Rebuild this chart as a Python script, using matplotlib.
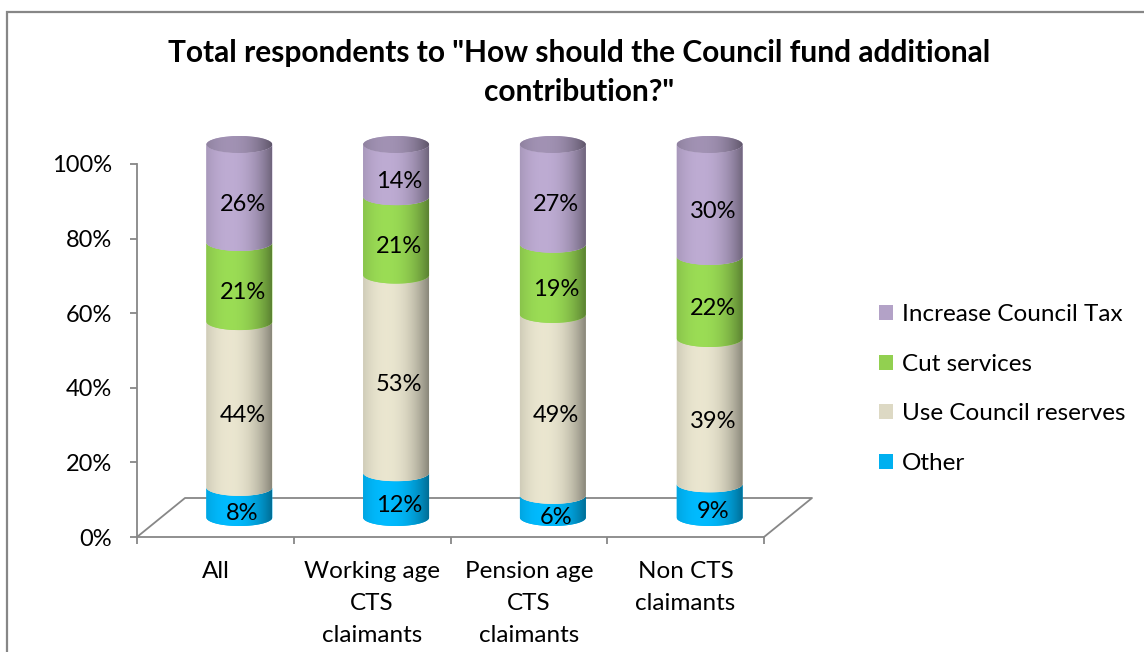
import matplotlib
matplotlib.use("Agg")
import matplotlib.pyplot as plt
import numpy as np
from matplotlib.patches import PathPatch, Ellipse, Rectangle, Patch
from matplotlib.path import Path

plt.rcParams['font.family'] = ['Lato', 'DejaVu Sans']

categories = ["All", "Working age\nCTS\nclaimants", "Pension age\nCTS\nclaimants", "Non CTS\nclaimants"]
series_names = ["Other", "Use Council reserves", "Cut services", "Increase Council Tax"]
other = [8, 12, 6, 9]
reserves = [44, 53, 49, 39]
cut = [21, 21, 19, 22]
increase = [26, 14, 27, 30]
colors = ["#00B0F0", "#DDD9C4", "#92D050", "#B3A2C7"]
yticks = [0, 20, 40, 60, 80, 100]
title = 'Total respondents to "How should the Council fund additional\ncontribution?"'

W, H = 1144, 652
fig = plt.figure(figsize=(W / 100, H / 100), dpi=100)
gray = "#878787"

# front plane of the plot, in picture pixels
x0px, x1px = 137, 764
y0px, y100px = 537, 164
xlo, xhi = -0.75, 4.0
ylo, yhi = -3, 112
sx = (x1px - x0px) / 4.0
sy = (y0px - y100px) / 100.0
left = x0px + (xlo + 0.5) * sx
right = x0px + (xhi + 0.5) * sx
bot = y0px - ylo * sy
top = y0px - yhi * sy
ax = fig.add_axes([left / W, 1 - bot / H, (right - left) / W, (bot - top) / H])

# 3d depth of the floor and cylinder size (data units)
dx = 48 / sx
dy = 39 / sy
rx = 33 / sx
ry = 8.5 / sy

# border round the chart area
fig.add_artist(Rectangle((7 / W, -0.1), 1.2, 1 - 12 / H + 0.1, transform=fig.transFigure,
                         fill=False, edgecolor=gray, lw=1.6))

# floor
ax.plot([-0.5, -0.5 + dx, 3.5 + dx, 3.5], [0, dy, dy, 0], color=gray, lw=1.3, zorder=1,
        clip_on=False)


def shade(n=200):
    u = np.linspace(0, 1, n)
    f = np.where(u < 0.35, 1.06 - 0.12 * ((0.35 - u) / 0.35) ** 2,
                 1.06 - 0.44 * ((u - 0.35) / 0.65) ** 2.2)
    return f


def fill_gradient(patch, color, x_a, x_b, y_a, y_b, k=1.0, z=3):
    ax.add_patch(patch)
    rgb = np.array(matplotlib.colors.to_rgb(color))
    f = shade() * k
    img = np.clip(rgb[None, None, :] * f[None, :, None], 0, 1)
    img = np.repeat(img, 2, axis=0)
    im = ax.imshow(img, extent=(x_a, x_b, y_a, y_b), aspect='auto',
                   interpolation='bilinear', zorder=z, origin='lower')
    im.set_clip_path(patch)


t = np.linspace(np.pi, 2 * np.pi, 60)
data = np.array([other, reserves, cut, increase], dtype=float)
for i in range(len(categories)):
    xc = i + dx / 2
    yb = dy / 2
    col = data[:, i]
    pct = col / col.sum() * 100
    cum = yb
    for j in range(len(series_names)):
        y_a, y_b = cum, cum + pct[j]
        xs = xc + rx * np.cos(t)
        lower = np.column_stack([xs, y_a + ry * np.sin(t)])
        upper = np.column_stack([xs[::-1], y_b + ry * np.sin(t[::-1])])
        verts = np.vstack([lower, upper, lower[:1]])
        patch = PathPatch(Path(verts), facecolor=colors[j], edgecolor='none', zorder=3)
        fill_gradient(patch, colors[j], xc - rx, xc + rx, y_a - ry, y_b + ry)
        ax.text(xc + 0.02, (y_a + y_b) / 2 - 1.25 * ry, f"{int(col[j])}%", ha='center',
                va='center', fontsize=17, zorder=6)
        cum = y_b
    # top face
    topface = Ellipse((xc, cum), 2 * rx, 2 * ry, facecolor=colors[-1], edgecolor='none', zorder=4)
    fill_gradient(topface, colors[-1], xc - rx, xc + rx, cum - ry, cum + ry, k=0.85, z=4)

ax.set_xlim(xlo, xhi)
ax.set_ylim(ylo, yhi)

for s in ['top', 'right']:
    ax.spines[s].set_visible(False)
ax.spines['left'].set_position(('data', -0.5))
ax.spines['left'].set_bounds(0, 100)
ax.spines['bottom'].set_position(('data', 0))
ax.spines['bottom'].set_bounds(-0.5, 3.5)
for s in ['left', 'bottom']:
    ax.spines[s].set_color(gray)
    ax.spines[s].set_linewidth(1.3)

ax.set_yticks(yticks)
ax.set_yticklabels([f"{v}%" for v in yticks])
ax.tick_params(axis='y', length=5, width=1.3, color=gray, pad=13, labelsize=17)
ax.set_xticks(range(len(categories)))
ax.set_xticklabels(categories, linespacing=1.65)
ax.set_xticks(np.arange(-0.5, len(categories), 1), minor=True)
ax.tick_params(axis='x', which='major', length=0, pad=17, labelsize=17.5)
ax.tick_params(axis='x', which='minor', length=5, width=1.3, color=gray)
ax.patch.set_visible(False)

fig.text(579 / W, 1 - 72.5 / H, title, ha='center', va='center', fontsize=21.5,
         fontweight='bold', linespacing=1.5)

handles = [Patch(facecolor=colors[j], edgecolor='none') for j in range(3, -1, -1)]
labels = [series_names[j] for j in range(3, -1, -1)]
fig.legend(handles, labels, loc='center left', bbox_to_anchor=(879 / W, 1 - 389 / H),
           frameon=False, fontsize=17.5, handlelength=0.58, handleheight=0.58,
           handletextpad=0.35, labelspacing=1.17, borderpad=0, borderaxespad=0)

fig.savefig("out.png", dpi=100)
